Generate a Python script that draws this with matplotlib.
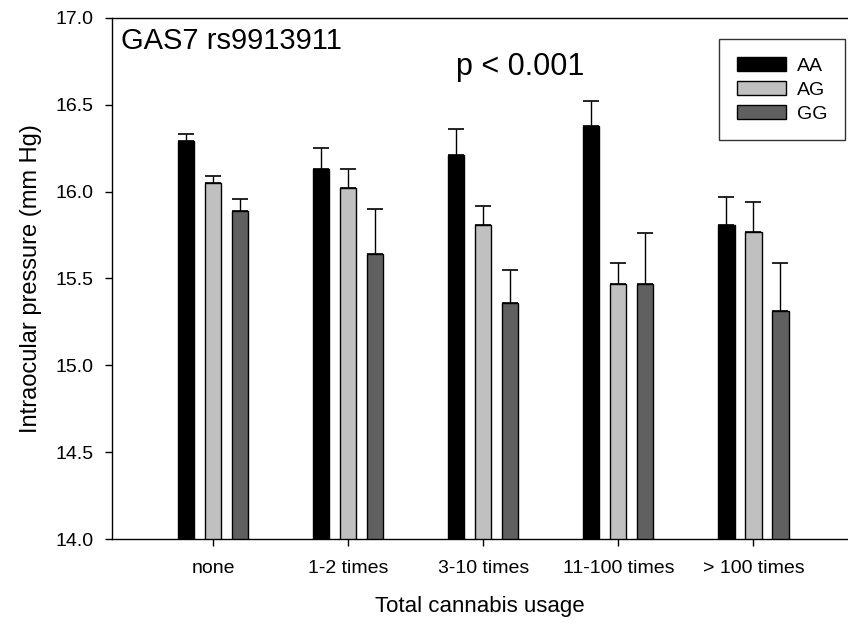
import numpy as np
import matplotlib
matplotlib.use("Agg")
import matplotlib.pyplot as plt

# Data
categories = ["none", "1-2 times", "3-10 times", "11-100 times", "> 100 times"]
genotypes = ["AA", "AG", "GG"]

aa_mean = [16.29, 16.13, 16.21, 16.38, 15.81]
aa_err = [0.04, 0.12, 0.15, 0.14, 0.16]
ag_mean = [16.05, 16.02, 15.81, 15.47, 15.77]
ag_err = [0.04, 0.11, 0.11, 0.12, 0.17]
gg_mean = [15.89, 15.64, 15.36, 15.47, 15.31]
gg_err = [0.07, 0.26, 0.19, 0.29, 0.28]

plt.rcParams.update({
    "font.family": ["Liberation Sans", "DejaVu Sans"],
})

fig = plt.figure(figsize=(8.48, 6.31), dpi=100)
ax = fig.add_axes([0.1321, 0.1458, 0.8679, 0.8257])

x = np.arange(len(categories))
width = 0.12
offset = 0.20
colors = ["#000000", "#c0c0c0", "#606060"]

for k, (means, errs, lab) in enumerate(zip([aa_mean, ag_mean, gg_mean],
                                           [aa_err, ag_err, gg_err], genotypes)):
    xs = x + (k - 1) * offset
    ax.bar(xs, means, width, bottom=0, color=colors[k], edgecolor="black",
           linewidth=1.0, label=lab, zorder=2)
    ax.errorbar(xs, means, yerr=[np.zeros(len(errs)), errs], fmt="none",
                ecolor="black", elinewidth=1.0, capsize=5.8, capthick=1.2, zorder=3)

ax.set_xlim(-0.748, 4.70)
ax.set_ylim(14.0, 17.0)
ax.set_yticks([14.0, 14.5, 15.0, 15.5, 16.0, 16.5, 17.0])
ax.set_yticklabels(["14.0", "14.5", "15.0", "15.5", "16.0", "16.5", "17.0"])
ax.set_xticks(x)
ax.set_xticklabels(categories)
ax.tick_params(axis="y", direction="out", length=5, width=1, labelsize=14, pad=8)
ax.tick_params(axis="x", direction="out", length=5, width=1, labelsize=14, pad=10)

ax.spines["right"].set_visible(False)
for s in ["left", "top", "bottom"]:
    ax.spines[s].set_linewidth(1.0)

ax.set_xlabel("Total cannabis usage", fontsize=16, labelpad=14)
ax.set_ylabel("Intraocular pressure (mm Hg)", fontsize=17, labelpad=10)

ax.text(0.012, 0.955, "GAS7 rs9913911", transform=ax.transAxes,
        fontsize=21, ha="left", va="center")
ax.text(0.468, 0.905, "p < 0.001", transform=ax.transAxes,
        fontsize=22, ha="left", va="center")

leg = ax.legend(loc="upper right", bbox_to_anchor=(0.9955, 0.959), fontsize=14,
                frameon=True, fancybox=False, edgecolor="black",
                handlelength=2.52, handleheight=0.75, handletextpad=0.57,
                labelspacing=0.32, borderpad=0.9, borderaxespad=0)
leg.get_frame().set_linewidth(1.0)

fig.savefig("out.png", dpi=100)
